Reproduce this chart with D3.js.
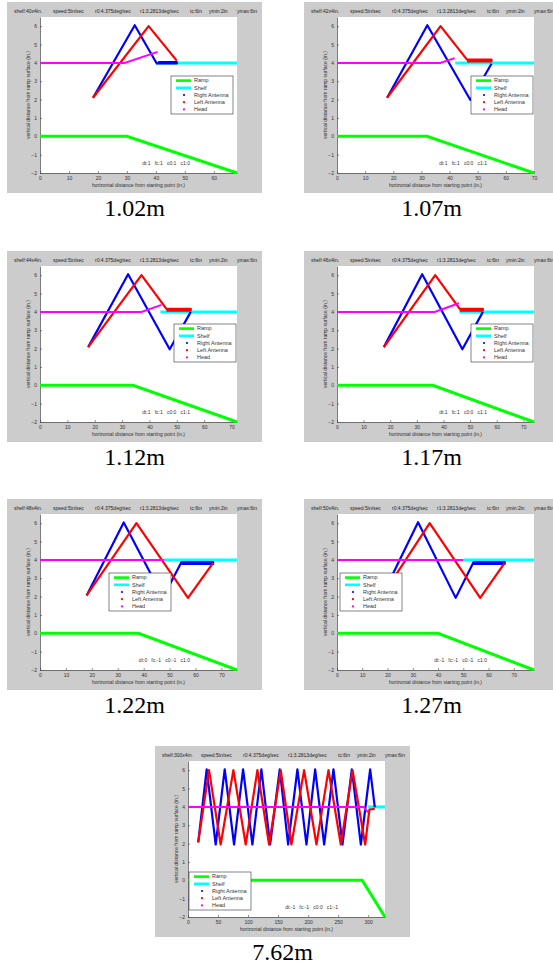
<!DOCTYPE html>
<html><head><meta charset="utf-8">
<script src="https://cdn.jsdelivr.net/npm/d3@7"></script>
<style>
html,body{margin:0;padding:0;background:#fff;}
svg{display:block;}
text{font-family:"Liberation Sans",Arial,sans-serif;}
text.caption{font-family:"Liberation Serif","Times New Roman",serif;}
</style></head><body>
<svg id="chart" width="553" height="965"></svg>
<script>
// ---------------- data ----------------
const captions = ["1.02m","1.07m","1.12m","1.17m","1.22m","1.27m","7.62m"];
const shelfLengths = [40,42,44,46,48,50,300];
const xMaxes = [68,70,72,74,76,78,328];
const rampBreaks = [30,32,34,36,38,40,290];
const rampDrop = -2;
const shelfHeight = 4;
const yTicks = [-2,-1,0,1,2,3,4,5,6];
const xTicks = [
  [0,10,20,30,40,50,60],
  [0,10,20,30,40,50,60,70],
  [0,10,20,30,40,50,60,70],
  [0,10,20,30,40,50,60,70],
  [0,10,20,30,40,50,60,70],
  [0,10,20,30,40,50,60,70],
  [0,50,100,150,200,250,300]
];
const titleInfo = ["speed:5in/sec","r0:4.375deg/sec","r1:3.2813deg/sec","tc:6in","ymin:2in","ymax:6in"];
const statusLabels = [
  "dt:1   fc:1   c0:1   c1:0",
  "dt:1   fc:1   c0:0   c1:1",
  "dt:1   fc:1   c0:0   c1:1",
  "dt:1   fc:1   c0:0   c1:1",
  "dt:0   fc:-1   c0:-1   c1:0",
  "dt:-1   fc:-1   c0:-1   c1:0",
  "dt:-1   fc:-1   c0:0   c1:-1"
];
const legendLabels = ["Ramp","Shelf","Right Antenna","Left Antenna","Head"];
const xLabel = "horizontal distance from starting point (in.)";
const yLabel = "vertical distance from ramp surface (in.)";

const rightAntenna = [
  [[18.3,2.1],[32.7,6.05],[40.3,3.97],[47.2,3.97],[47.2,4.04],[40.8,4.04]],
  [[17.8,2.1],[32.1,6.05],[47.4,1.98],[54.9,3.95]],
  [[17.6,2.08],[32.2,6.05],[47.4,1.96],[55.1,4.0]],
  [[17.6,2.08],[32.0,6.05],[47.1,1.96],[54.8,4.0]],
  [[18.0,2.06],[32.3,6.04],[47.5,1.96],[54.6,3.88],[66.8,3.88],[66.8,3.78],[54.6,3.78]],
  [[18.0,2.07],[32.1,6.05],[47.0,1.93],[54.1,3.88],[66.4,3.88],[66.4,3.78],[54.1,3.78]],
  [[17,2.07],[31.1,6.05],[46.1,1.95],[61.1,6.05],[76.7,1.95],[91.7,6.05],[107.2,1.95],[122.2,6.05],
   [136.7,1.95],[152.8,6.05],[166.7,1.95],[182.2,6.05],[197.2,1.95],[211.7,6.05],[226.7,1.95],
   [242.2,6.05],[257.2,1.95],[272.8,6.05],[287.8,1.95],[303.3,6.05],[311,3.98]]
];
const leftAntenna = [
  [[18.3,2.1],[37.5,6.0],[47.2,4.12]],
  [[17.8,2.1],[36.8,6.0],[46.2,4.18],[54.9,4.18],[54.9,4.08],[46.2,4.08]],
  [[17.6,2.08],[37.1,6.0],[46.2,4.16],[55.1,4.16],[55.1,4.07],[46.2,4.07]],
  [[17.6,2.08],[36.9,6.0],[46.1,4.16],[54.8,4.16],[54.8,4.07],[46.1,4.07]],
  [[18.0,2.06],[37.2,6.0],[57.1,1.93],[66.8,3.84]],
  [[18.0,2.07],[36.7,6.0],[56.7,1.93],[66.4,3.84]],
  [[17,2.07],[35,6.0],[54.4,1.95],[75.6,6.0],[96.1,1.95],[115.6,6.0],[135,1.95],[154.4,6.0],
   [172.2,1.95],[193.3,6.0],[213.9,1.95],[233.9,6.0],[254.4,1.95],[274,6.0],[295,1.95],
   [302,3.85],[311,3.9]]
];
const headPath = [
  [[0,4],[29.2,4],[40.6,4.6]],
  [[0,4],[36.7,4],[41.8,4.26]],
  [[0,4],[37.1,4],[44.4,4.38]],
  [[0,4],[36.7,4],[45.8,4.47]],
  [[0,4],[48,4]],
  [[0,4],[50,4]],
  [[0,4],[292,4],[300,3.7]]
];

// ---------------- layout ----------------
const panelOrigins = [[7,2],[304,2],[7,251],[304,251],[7,499],[304,499],[155,746]];
const legendOffsets = [[131,59],[134,59],[134,58],[134,58],[69,59],[3,59],[1,111]];
const titleOffsets = [7,46,88,133,183,202,230];
const PW=255, PH=191, PL=33, PT=15, AW=197, AH=156;
const colors = {ramp:"#00ff00", shelf:"#00ffff", right:"#0000ff", left:"#ff0000", head:"#ff00ff"};

const svg = d3.select("#chart");
const defs = svg.append("defs");

panelOrigins.forEach((o,i)=>{
  const [gx,gy] = o;
  defs.append("clipPath").attr("id","pc"+i).append("rect")
    .attr("x",gx).attr("y",gy).attr("width",PW).attr("height",PH);
  defs.append("clipPath").attr("id","ac"+i).append("rect")
    .attr("x",gx+PL-1).attr("y",gy+PT-1).attr("width",AW+2).attr("height",AH+2);

  const g = svg.append("g").attr("clip-path",`url(#pc${i})`);
  g.append("rect").attr("x",gx).attr("y",gy).attr("width",PW).attr("height",PH).attr("fill","#cccccc");

  const x = d3.scaleLinear().domain([0,xMaxes[i]]).range([gx+PL,gx+PL+AW]);
  const y = d3.scaleLinear().domain([-2,6.5]).range([gy+PT+AH,gy+PT]);

  g.append("rect").attr("x",gx+PL).attr("y",gy+PT).attr("width",AW).attr("height",AH).attr("fill","#ffffff");

  // title
  const parts = [`shelf:${shelfLengths[i]}x4in.`].concat(titleInfo);
  parts.forEach((t,k)=>{
    g.append("text").attr("x",gx+titleOffsets[k]).attr("y",gy+10.5)
      .attr("font-size",5).attr("fill","#222").text(t);
  });

  // axes
  const xa = d3.axisBottom(x).tickValues(xTicks[i]).tickSizeInner(-2).tickSizeOuter(0).tickPadding(3);
  const ya = d3.axisLeft(y).tickValues(yTicks).tickSizeInner(-2).tickSizeOuter(0).tickPadding(3);
  const gxa = g.append("g").attr("transform",`translate(0,${gy+PT+AH})`).call(xa);
  const gya = g.append("g").attr("transform",`translate(${gx+PL},0)`).call(ya);
  [gxa,gya].forEach(a=>{
    a.selectAll("path").attr("stroke","#444").attr("stroke-width",0.7);
    a.selectAll("line").attr("stroke","#444").attr("stroke-width",0.6);
    a.selectAll("text").attr("font-size",5).attr("fill","#333");
  });

  g.append("text").attr("x",gx+PL+AW/2).attr("y",gy+PT+AH+14).attr("text-anchor","middle")
    .attr("font-size",5).attr("fill","#333").text(xLabel);
  g.append("text").attr("transform",`translate(${gx+23},${gy+PT+AH/2}) rotate(-90)`)
    .attr("text-anchor","middle").attr("font-size",5).attr("fill","#333").text(yLabel);

  // plot lines
  const pg = g.append("g").attr("clip-path",`url(#ac${i})`);
  const line = d3.line().x(d=>x(d[0])).y(d=>y(d[1]));
  const ramp = [[0,0],[rampBreaks[i],0],[xMaxes[i],rampDrop]];
  const shelf = [[shelfLengths[i],shelfHeight],[xMaxes[i],shelfHeight]];
  pg.append("path").attr("d",line(ramp)).attr("fill","none").attr("stroke",colors.ramp).attr("stroke-width",3);
  pg.append("path").attr("d",line(shelf)).attr("fill","none").attr("stroke",colors.shelf).attr("stroke-width",3);
  pg.append("path").attr("d",line(rightAntenna[i])).attr("fill","none").attr("stroke",colors.right)
    .attr("stroke-width",2.2).attr("stroke-linejoin","round");
  pg.append("path").attr("d",line(leftAntenna[i])).attr("fill","none").attr("stroke",colors.left)
    .attr("stroke-width",2.2).attr("stroke-linejoin","round");
  pg.append("path").attr("d",line(headPath[i])).attr("fill","none").attr("stroke",colors.head)
    .attr("stroke-width",2);

  // status text
  g.append("text").attr("x",gx+PL+AW-47).attr("y",gy+PT+AH-8).attr("text-anchor","end")
    .attr("font-size",5).attr("fill","#333").style("white-space","pre").text(statusLabels[i]);

  // legend
  const [lx,ly] = legendOffsets[i];
  const L = g.append("g").attr("transform",`translate(${gx+PL+lx},${gy+PT+ly})`);
  L.append("rect").attr("width",62).attr("height",38).attr("fill","#fff").attr("stroke","#333").attr("stroke-width",0.6);
  const lc = [colors.ramp,colors.shelf,colors.right,colors.left,colors.head];
  legendLabels.forEach((t,k)=>{
    const ry = 4.6 + k*7.2;
    if (k<2) {
      L.append("line").attr("x1",5).attr("x2",20).attr("y1",ry).attr("y2",ry)
        .attr("stroke",lc[k]).attr("stroke-width",2.6);
    } else {
      L.append("circle").attr("cx",13).attr("cy",ry).attr("r",1.1).attr("fill",lc[k]);
    }
    L.append("text").attr("x",23).attr("y",ry+1.8).attr("font-size",5.5).attr("fill","#333").text(t);
  });

  // caption
  svg.append("text").attr("class","caption").attr("x",gx+PW/2).attr("y",gy+214).attr("text-anchor","middle")
    .attr("font-size",24).attr("fill","#000").text(captions[i]);
});
</script>
</body></html>
